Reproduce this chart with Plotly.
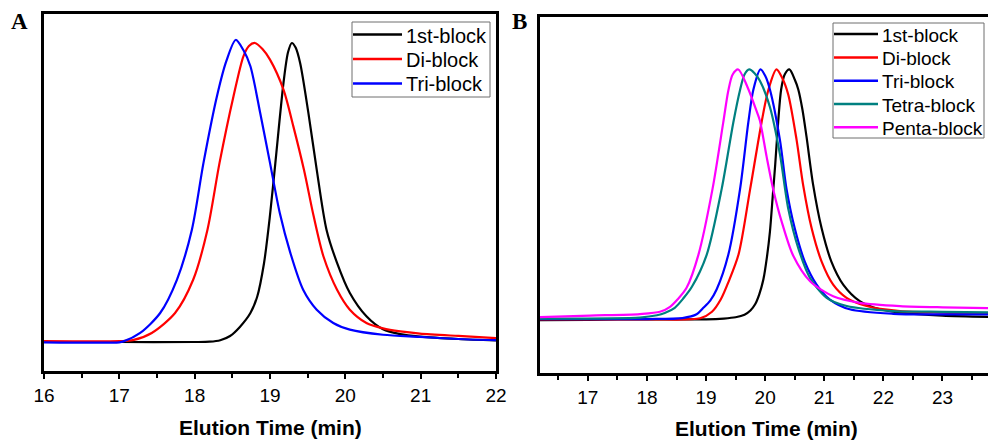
import plotly.graph_objects as go

# ---- GPC traces, panel A (elution time in min, normalised RI signal) ----
a_black_t = [16.0, 17.0, 18.0, 18.2, 18.34, 18.47, 18.6, 18.74, 18.83, 18.92, 19.0, 19.07, 19.18, 19.24,
             19.29, 19.34, 19.40, 19.51, 19.62, 19.75, 19.89, 20.06, 20.28, 20.50, 20.73, 20.99, 21.5, 22.0]
a_black_y = [0.0, 0.0, 0.0, 0.001, 0.006, 0.02, 0.05, 0.096, 0.15, 0.26, 0.42, 0.59, 0.86, 0.96,
             0.99, 0.975, 0.924, 0.758, 0.571, 0.372, 0.262, 0.162, 0.085, 0.042, 0.026, 0.018, 0.01, 0.005]

a_red_t = [16.0, 17.0, 17.18, 17.43, 17.74, 17.98, 18.17, 18.33, 18.515, 18.647, 18.72, 18.80, 18.90,
           19.0, 19.18, 19.31, 19.45, 19.58, 19.71, 19.89, 20.06, 20.28, 20.50, 20.73, 20.99, 21.5, 22.0]
a_red_y = [0.003, 0.003, 0.006, 0.030, 0.096, 0.206, 0.372, 0.593, 0.813, 0.946, 0.98, 0.99, 0.97,
           0.935, 0.835, 0.714, 0.571, 0.416, 0.283, 0.173, 0.107, 0.063, 0.045, 0.035, 0.028, 0.02, 0.013]

a_blue_t = [16.0, 17.0, 17.056, 17.277, 17.542, 17.764, 17.963, 18.117, 18.295, 18.42, 18.545, 18.65,
            18.74, 18.87, 19.0, 19.13, 19.27, 19.44, 19.62, 19.84, 20.06, 20.50, 20.99, 21.5, 22.0]
a_blue_y = [-0.001, -0.001, 0.002, 0.030, 0.096, 0.206, 0.372, 0.593, 0.813, 0.93, 1.0, 0.965,
            0.913, 0.758, 0.593, 0.427, 0.295, 0.173, 0.107, 0.063, 0.041, 0.024, 0.017, 0.01, 0.006]

# ---- GPC traces, panel B ----
b_black_t = [16.19, 17.0, 18.0, 19.0, 19.3, 19.5, 19.65, 19.75, 19.83, 19.9, 19.97, 20.03, 20.08, 20.13,
             20.17, 20.22, 20.27, 20.33, 20.41, 20.5, 20.56, 20.63, 20.70, 20.81, 20.955, 21.12, 21.32,
             21.6, 21.94, 22.28, 23.0, 23.77]
b_black_y = [-0.003, -0.002, 0.0, 0.0, 0.003, 0.008, 0.018, 0.035, 0.06, 0.1, 0.16, 0.25, 0.35, 0.5,
             0.62, 0.79, 0.92, 0.98, 1.0, 0.96, 0.92, 0.84, 0.73, 0.54, 0.364, 0.231, 0.139,
             0.073, 0.04, 0.027, 0.015, 0.01]

b_red_t = [16.19, 18.0, 18.9, 19.1, 19.25, 19.38, 19.55, 19.745, 19.94, 20.05, 20.19, 20.29, 20.39,
           20.53, 20.644, 20.786, 20.955, 21.15, 21.377, 21.715, 22.28, 23.0, 23.77]
b_red_y = [0.0, 0.0, 0.004, 0.03, 0.08, 0.15, 0.26, 0.52, 0.79, 0.915, 1.0, 0.965, 0.9,
           0.72, 0.535, 0.364, 0.231, 0.139, 0.086, 0.053, 0.033, 0.027, 0.024]

b_blue_t = [16.19, 18.0, 18.6, 18.84, 18.95, 19.07, 19.18, 19.376, 19.576, 19.714, 19.80, 19.92, 20.0,
            20.08, 20.25, 20.36, 20.50, 20.67, 20.87, 21.095, 21.43, 22.165, 23.0, 23.77]
b_blue_y = [0.001, 0.001, 0.005, 0.02, 0.045, 0.075, 0.12, 0.258, 0.523, 0.787, 0.919, 1.0, 0.975,
            0.92, 0.717, 0.523, 0.364, 0.231, 0.139, 0.079, 0.04, 0.022, 0.02, 0.02]

b_teal_t = [16.19, 17.88, 18.17, 18.3, 18.47, 18.62, 18.76, 19.01, 19.265, 19.46, 19.576, 19.65, 19.73,
            19.82, 19.91, 20.08, 20.25, 20.39, 20.56, 20.76, 21.04, 21.38, 22.165, 23.0, 23.77]
b_teal_y = [0.003, 0.007, 0.016, 0.025, 0.046, 0.085, 0.13, 0.258, 0.523, 0.787, 0.919, 0.98, 1.0,
            0.985, 0.955, 0.85, 0.66, 0.443, 0.285, 0.165, 0.086, 0.053, 0.033, 0.03, 0.028]

b_mag_t = [16.19, 17.04, 17.88, 18.22, 18.39, 18.52, 18.67, 18.87, 19.11, 19.29, 19.376, 19.45, 19.545,
           19.7, 19.86, 19.91, 20.025, 20.137, 20.28, 20.475, 20.76, 21.15, 21.6, 22.28, 23.0, 23.77]
b_mag_y = [0.009, 0.015, 0.021, 0.03, 0.05, 0.08, 0.126, 0.258, 0.523, 0.787, 0.915, 0.98, 1.0,
           0.93, 0.83, 0.796, 0.65, 0.519, 0.39, 0.254, 0.152, 0.092, 0.066, 0.053, 0.048, 0.045]

names_a = ["1st-block", "Di-block", "Tri-block"]
names_b = ["1st-block", "Di-block", "Tri-block", "Tetra-block", "Penta-block"]
colors = ["#000000", "#FF0000", "#0000FF", "#008080", "#FF00FF"]

series_a = [(a_black_t, a_black_y), (a_red_t, a_red_y), (a_blue_t, a_blue_y)]
series_b = [(b_black_t, b_black_y), (b_red_t, b_red_y), (b_blue_t, b_blue_y),
            (b_teal_t, b_teal_y), (b_mag_t, b_mag_y)]

W, H = 988, 440
SANS = "Liberation Sans, Arial, sans-serif"
SERIF = "Liberation Serif, Times New Roman, serif"


def px_x(p):
    return p / W


def px_y(p):
    return 1 - p / H


fig = go.Figure()

for (t, y), name, c in zip(series_a, names_a, colors):
    fig.add_trace(go.Scatter(x=t, y=y, name=name, mode="lines", showlegend=False,
                             line=dict(color=c, width=2.2, shape="spline", smoothing=0.8),
                             xaxis="x", yaxis="y"))

for (t, y), name, c in zip(series_b, names_b, colors):
    fig.add_trace(go.Scatter(x=t, y=y, name=name, mode="lines", showlegend=False,
                             line=dict(color=c, width=2.2, shape="spline", smoothing=0.8),
                             xaxis="x2", yaxis="y2"))

shapes = []
annotations = []


def add_legend(names, box, rows, line_x, text_x, size):
    """Boxed key: one coloured line sample and label per series (pixel layout)."""
    x0, y0, x1, y1 = box
    shapes.append(dict(type="rect", xref="paper", yref="paper",
                       x0=px_x(x0), x1=px_x(x1), y0=px_y(y1), y1=px_y(y0),
                       line=dict(color="#6e6e6e", width=1), fillcolor="white", layer="above"))
    for name, c, ry in zip(names, colors, rows):
        shapes.append(dict(type="line", xref="paper", yref="paper",
                           x0=px_x(line_x[0]), x1=px_x(line_x[1]), y0=px_y(ry), y1=px_y(ry),
                           line=dict(color=c, width=2.5), layer="above"))
        annotations.append(dict(text=name, x=px_x(text_x), y=px_y(ry + 1), xref="paper", yref="paper",
                                xanchor="left", yanchor="middle", showarrow=False,
                                font=dict(family=SANS, size=size, color="black")))


add_legend(names_a, (352, 22, 490, 97), [34.5, 59, 83.5], (353, 402), 404, 20)
add_legend(names_b, (833, 23, 984, 138), [34, 57.5, 80.7, 104, 127.3], (834, 878), 880, 19)

annotations += [
    dict(text="<b>A</b>", x=px_x(19), y=px_y(21.5), xref="paper", yref="paper", showarrow=False,
         xanchor="center", yanchor="middle", font=dict(family=SERIF, size=23, color="black")),
    dict(text="<b>B</b>", x=px_x(519.5), y=px_y(21), xref="paper", yref="paper", showarrow=False,
         xanchor="center", yanchor="middle", font=dict(family=SERIF, size=23, color="black")),
    dict(text="<b>Elution Time (min)</b>", x=px_x(270), y=px_y(427.5), xref="paper", yref="paper",
         xanchor="center", yanchor="middle", showarrow=False,
         font=dict(family=SANS, size=21, color="black")),
    dict(text="<b>Elution Time (min)</b>", x=px_x(766), y=px_y(428), xref="paper", yref="paper",
         xanchor="center", yanchor="middle", showarrow=False,
         font=dict(family=SANS, size=21, color="black")),
]

xcommon = dict(showline=True, linecolor="black", linewidth=2.5, ticks="outside", ticklen=5,
               tickwidth=2, tickcolor="black", dtick=1, showgrid=False, zeroline=False,
               automargin=False, ticklabelstandoff=0,
               tickfont=dict(family=SANS, size=19, color="black"),
               minor=dict(dtick=0.5, ticks="outside", ticklen=4, tickwidth=2, tickcolor="black"))
ycommon = dict(showline=True, linecolor="black", linewidth=2.5, showticklabels=False, ticks="",
               showgrid=False, zeroline=False, automargin=False)

fig.update_layout(
    width=W, height=H,
    margin=dict(l=0, r=0, t=0, b=0, autoexpand=False),
    paper_bgcolor="white", plot_bgcolor="white",
    showlegend=False,
    xaxis=dict(domain=[px_x(44), px_x(496)], range=[16, 22], anchor="y", mirror=True, **xcommon),
    yaxis=dict(domain=[px_y(371), px_y(14)], range=[-0.096, 1.086], anchor="x", mirror=True, **ycommon),
    xaxis2=dict(domain=[px_x(540), 1.0], range=[16.19, 23.77], anchor="y2", mirror=True, **xcommon),
    yaxis2=dict(domain=[px_y(373), px_y(17)], range=[-0.215, 1.21], anchor="x2", mirror=False, **ycommon),
    shapes=shapes,
    annotations=annotations,
)

fig.write_html("out.html")
